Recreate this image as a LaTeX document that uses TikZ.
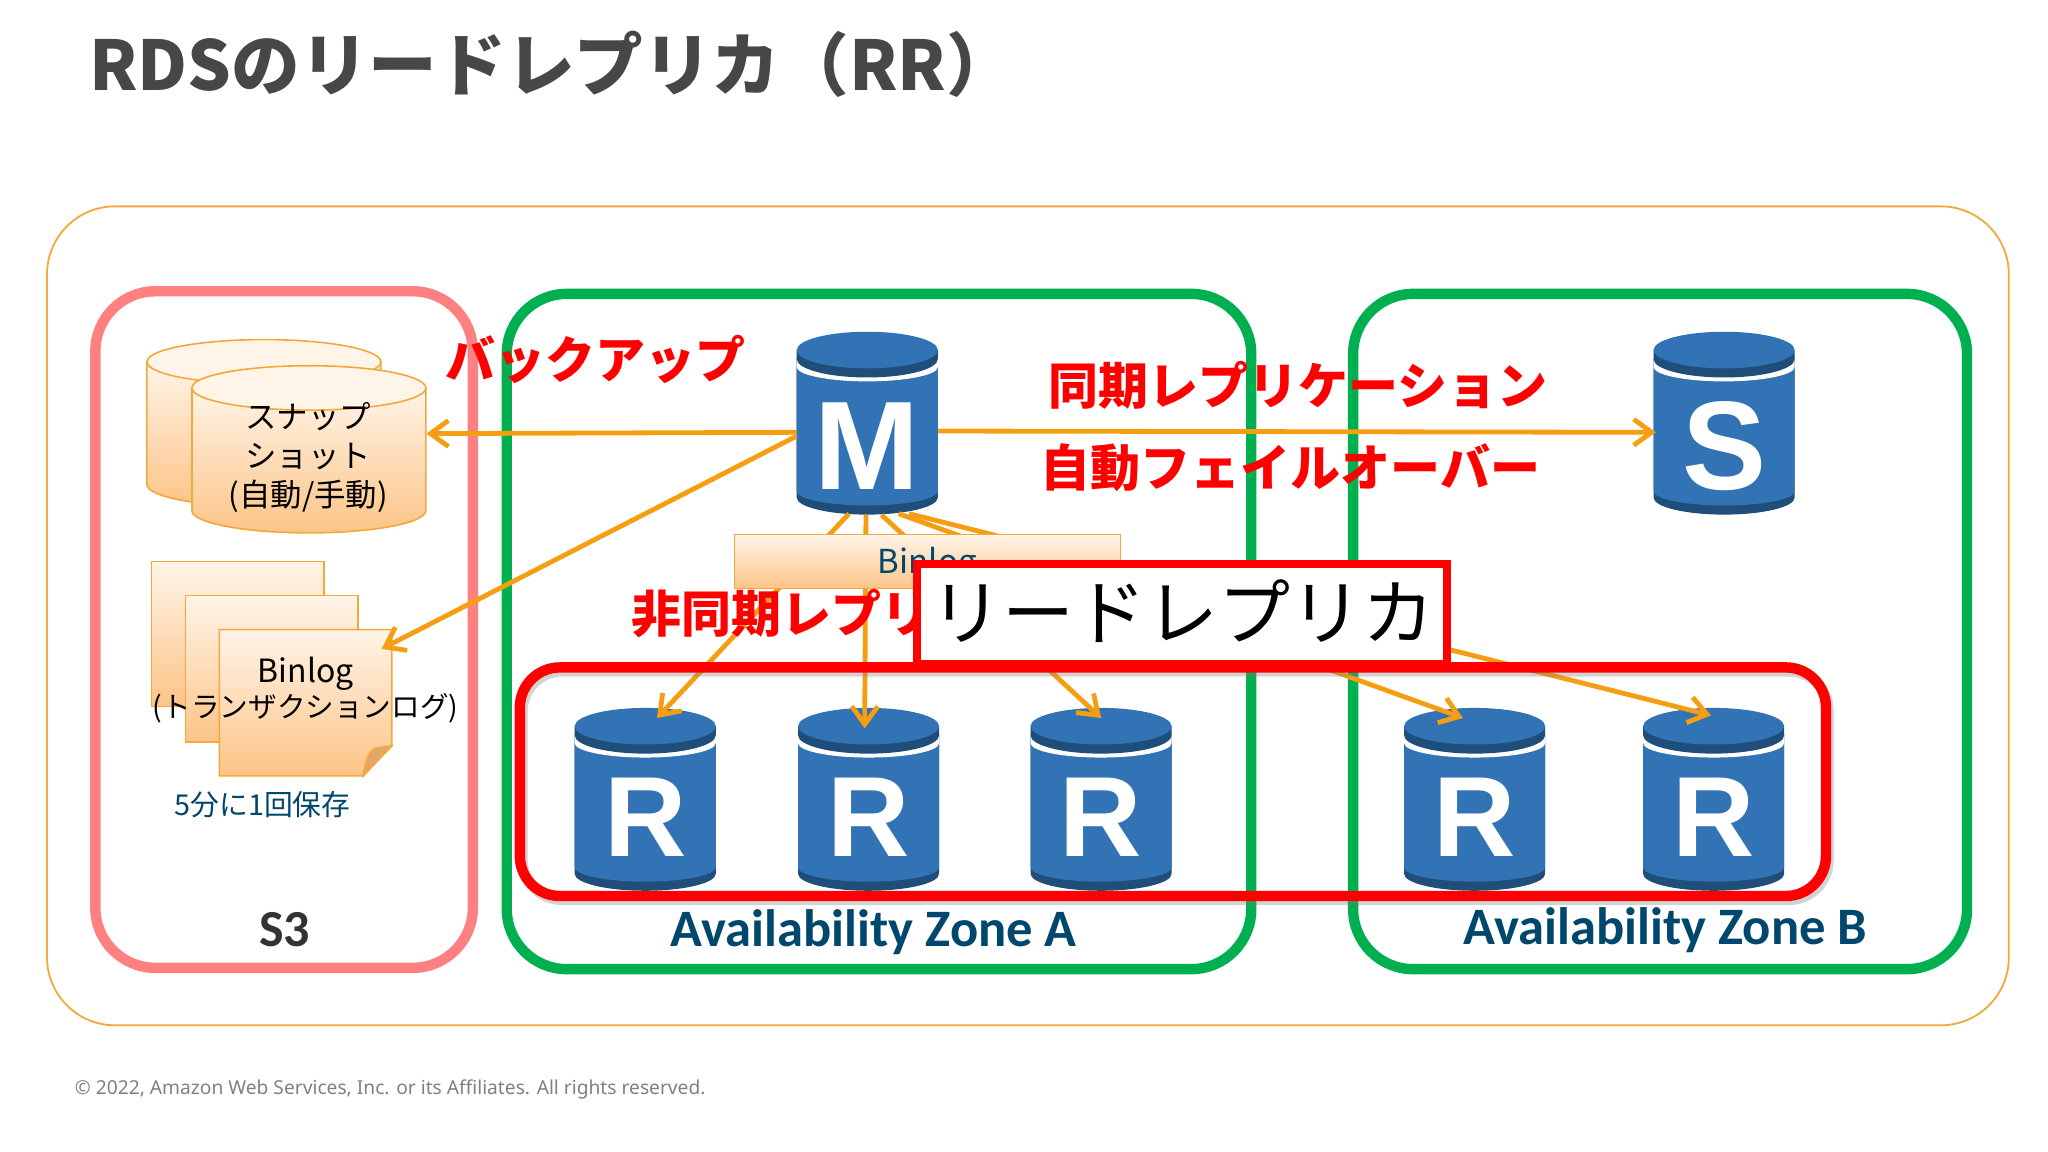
\documentclass[tikz,border=0pt]{standalone}
\usepackage{fontspec}
\usepackage{xcolor}
\setmainfont{Noto Sans CJK JP}
\newfontfamily\letterfont{Liberation Sans}
\newfontfamily\zonefont{Carlito}
\newfontfamily\footfont{Noto Sans}
\usetikzlibrary{arrows.meta}
\definecolor{zonegreen}{HTML}{00B050}
\definecolor{s3pink}{HTML}{FF8080}
\definecolor{repred}{HTML}{FF0000}
\definecolor{flow}{HTML}{F59E12}
\definecolor{drumblue}{HTML}{3273B6}
\definecolor{drumdark}{HTML}{1F4E7A}
\definecolor{zonetext}{HTML}{00476E}
\definecolor{paleorange}{HTML}{FFF4E8}
\definecolor{deeporange}{HTML}{FDC487}
\definecolor{edgeorange}{HTML}{F2A83C}
\newcommand\fsize[1]{\fontsize{#1pt}{#1pt}\selectfont}
\tikzstyle{zone}=[line width=5.2pt,rounded corners=30pt]
\tikzstyle{flowhead}=[>={Straight Barb[length=9pt,width=13pt]}]
\tikzstyle{rep}=[line width=2.4pt,draw=flow,flowhead,->]
\tikzstyle{paper}=[draw=edgeorange,line width=.8pt,top color=paleorange,bottom color=deeporange]
\tikzstyle{redtext}=[text=repred,font=\fsize{25}\bfseries,inner sep=0pt]
\tikzstyle{drumletter}=[text=white,font=\letterfont\fsize{57}\bfseries,inner sep=0pt,
	minimum width=70.5pt,minimum height=91.4pt,text height=57.4pt,text depth=0pt]
\tikzstyle{bigletter}=[font=\letterfont\fsize{63}\bfseries,text height=66pt]
\newcommand\lowarc[3]{(-#1,#2) .. controls (-#1,#2+.55*#3) and (-.55*#1,#2+#3) .. (0,#2+#3) .. controls (.55*#1,#2+#3) and (#1,#2+.55*#3) .. (#1,#2)}
\newcommand\rdsdrum[5][]{%
	\begin{scope}[shift={(#3,#4)}]
		\fill[drumdark] \lowarc{54}{127}{13} -- (54,20) -- (-54,20) -- cycle;
		\fill[drumblue] \lowarc{54}{122}{11} -- (54,20) -- (-54,20) -- cycle;
		\fill[white] \lowarc{54}{27}{11} -- (54,15) -- (-54,15) -- cycle;
		\fill[drumdark] \lowarc{54}{21}{14} -- (54,14) -- (-54,14) -- cycle;
		\fill[drumblue] (0,14) ellipse [x radius=54,y radius=14];
		\node[drumletter,#1] (#2) at (0,70) {#5};
	\end{scope}
}
\newcommand\snapdrum[3]{%
	\begin{scope}[shift={(#1,#2)}]
		\path[paper] \lowarc{89.5}{111}{17} -- (89.5,17) -- (-89.5,17) -- cycle;
		\path[draw=edgeorange,line width=.8pt,fill=paleorange] (0,17) ellipse [x radius=89.5,y radius=17];
		\node[minimum width=117pt,minimum height=83pt,inner sep=0pt] (#3) at (0,64) {};
	\end{scope}
}
\begin{document}
\begin{tikzpicture}[x=.653pt,y=-.653pt]
	\useasboundingbox (0,0) rectangle (1568,882);
	\node[anchor=west,inner sep=0pt,text=black!72,font=\fsize{34.3}\bfseries] (title) at (68,49.5) {RDSのリードレプリカ（RR）};
	\draw[edgeorange,line width=.9pt,rounded corners=34pt] (36,158) rectangle (1538,785);
	\draw[zone,s3pink] (73,223) rectangle (362,741);
	\draw[zone,zonegreen] (388,225) rectangle (958,742);
	\draw[zone,zonegreen] (1036,225) rectangle (1506,742);
	% snapshots
	\snapdrum{202}{260}{snapback}
	\snapdrum{236.5}{280}{snap}
	\node[align=center,inner sep=0pt,font=\fontsize{15.7pt}{19.5pt}\selectfont] (snaptext) at (236,350) {スナップ\\ショット\\(自動/手動)};
	% binlog sheets
	\path[paper] (116,430) rectangle (248,541);
	\path[paper] (142,456) rectangle (274,568);
	\path[paper] (168,482) -- (300,482) -- (300,571) -- (278,594) -- (168,594) -- cycle;
	\path[draw=edgeorange,line width=.8pt,fill=brown!60!orange!70] (300,571) -- (278,594) .. controls (280,582) and (282,576) .. (287,573) -- cycle;
	\node[minimum width=86pt,minimum height=73pt,inner sep=0pt] (sheet) at (234,538) {};
	\node[inner sep=0pt,font=\fsize{16}] (sheettext) at (234,516) {Binlog};
	\node[inner sep=0pt,font=\fsize{14.3}] (sheetnote) at (234,542) {(トランザクションログ)};
	\node[inner sep=0pt,text=zonetext,font=\fsize{14.4}] (every) at (201,616) {5分に1回保存};
	% drums
	\rdsdrum[bigletter]{M}{664}{254}{M}
	\rdsdrum[bigletter]{S}{1320}{254}{S}
	\rdsdrum{R1}{494}{542}{R}
	\rdsdrum{R2}{665}{542}{R}
	\rdsdrum{R3}{843}{542}{R}
	\rdsdrum{R4}{1129}{542}{R}
	\rdsdrum{R5}{1312}{542}{R}
	% replication
	\draw[rep] ([shift={(0,7)}]M.west) -- ([shift={(0,-12)}]snap.east);
	\draw[rep] ([shift={(0,10)}]M.west) -- ([shift={(-8,15)}]sheet.north east);
	\draw[rep] ([shift={(0,6)}]M.east) -- ([shift={(2,7)}]S.west);
	\draw[rep] ([shift={(-14,-1)}]M.south) -- ([shift={(9,8)}]R1.north);
	\draw[rep] ([shift={(-1,0)}]M.south) -- ([shift={(-3,16)}]R2.north);
	\draw[rep] ([shift={(11,0)}]M.south) -- ([shift={(0,8)}]R3.north);
	\draw[rep] ([shift={(24,-1)}]M.south) -- ([shift={(-9,8)}]R4.north);
	\draw[rep] ([shift={(32,-1)}]M.south) -- ([shift={(-2,6)}]R5.north);
	\node[draw=edgeorange,line width=.8pt,top color=paleorange,bottom color=deeporange,text=zonetext,
		minimum width=193pt,minimum height=27pt,inner sep=0pt,font=\fsize{16.5},text height=13pt,text depth=1pt] (binlog) at (710,430) {Binlog};
	% labels
	\node[redtext] (backup) at (456,275) {バックアップ};
	\node[redtext] (sync) at (994,295) {同期レプリケーション};
	\node[redtext] (failover) at (988,358) {自動フェイルオーバー};
	\node[redtext,anchor=west] (async) at (483,470) {非同期レプリ};
	\draw[gray,opacity=.35,line width=5.2pt,rounded corners=20pt] (400,514) rectangle (1400,689);
	\draw[repred,line width=5.2pt,rounded corners=20pt] (398,511) rectangle (1398,686);
	\node[draw=repred,fill=white,line width=4pt,minimum width=265pt,minimum height=50pt,inner sep=0pt,font=\fsize{36}] (readlabel) at (905,470) {\raisebox{4pt}{リードレプリカ}};
	\node[inner sep=0pt,text=black!80,font=\zonefont\bfseries\fsize{26}] (s3name) at (218,712) {S3};
	\node[inner sep=0pt,text=zonetext,font=\zonefont\bfseries\fsize{26.3}] (zonea) at (669,714) {Availability Zone A};
	\node[inner sep=0pt,text=zonetext,font=\zonefont\bfseries\fsize{26.3}] (zoneb) at (1275,712) {Availability Zone B};
	\node[anchor=west,inner sep=0pt,text=black!50,font=\footfont\fsize{9.6}] (copy) at (57,834) {© 2022, Amazon Web Services, Inc. or its Affiliates. All rights reserved.};
\end{tikzpicture}
\end{document}
